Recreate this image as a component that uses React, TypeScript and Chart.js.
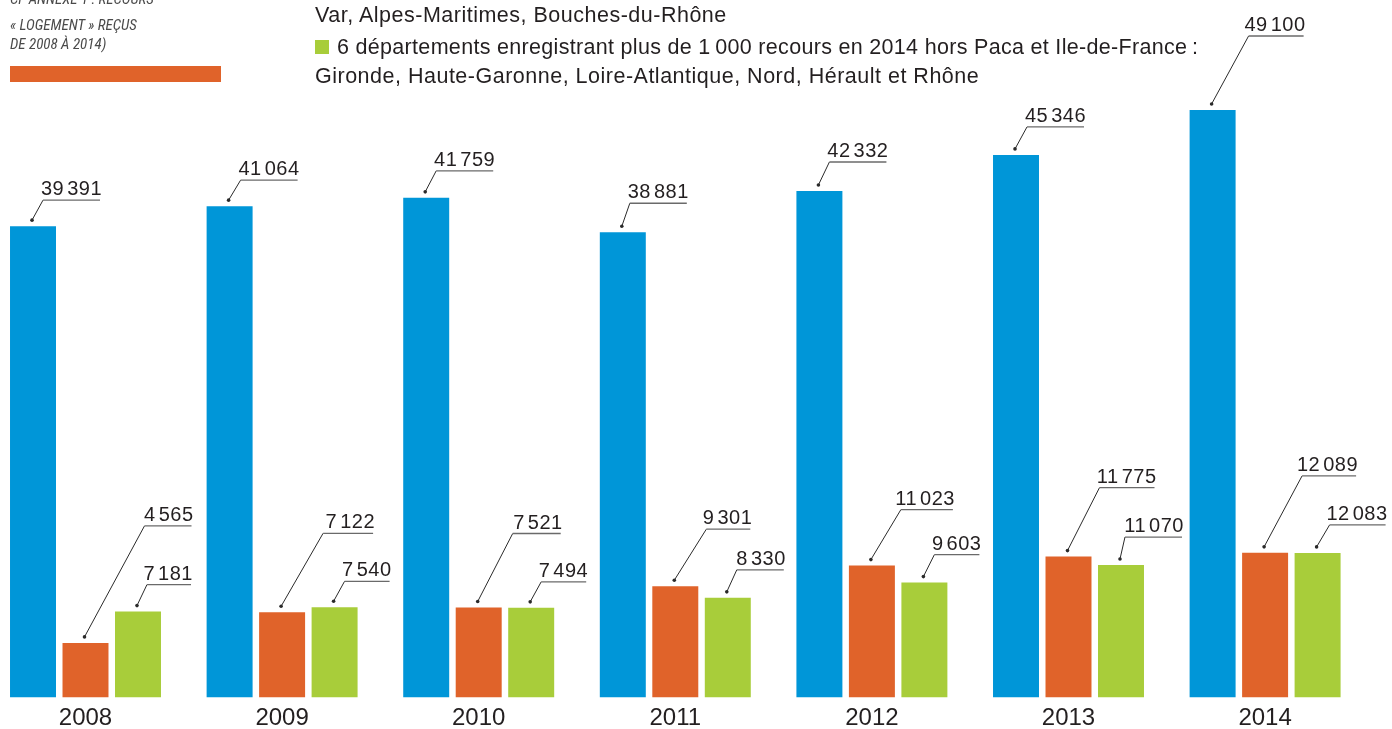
import React, { useEffect, useRef } from "react";
import { Chart, registerables } from "chart.js";

Chart.register(...registerables);

// ---- Data ----
const years = ["2008", "2009", "2010", "2011", "2012", "2013", "2014"];
const ileDeFrance = [39391, 41064, 41759, 38881, 42332, 45346, 49100];
const paca = [4565, 7122, 7521, 9301, 11023, 11775, 12089];
const sixDepartements = [7181, 7540, 7494, 8330, 9603, 11070, 12083];

const seriesLabels = [
  "Île-de-France",
  "Paca : Var, Alpes-Maritimes, Bouches-du-Rhône",
  "6 départements enregistrant plus de 1 000 recours en 2014 hors Paca et Ile-de-France",
];
const seriesColors = ["#0096d8", "#e0632a", "#a8cd3a"];
const yMax = 58000;

// ---- Leader-line layout (offsets from bar top-centre: elbow dx, elbow dy, horizontal length) ----
const leaderBlue = [[10, -26, 57], [11, -26, 57], [10, -27, 57], [7, -29, 57], [10, -29, 57], [11, -28, 57], [36, -74, 55]];
const leaderOrange = [[59, -117, 47], [41, -79, 50], [34, -74, 48], [31, -57, 44], [29, -56, 52], [31, -69, 55], [37, -77, 54]];
const leaderGreen = [[9, -27, 44], [10, -26, 45], [10, -26, 45], [9, -28, 47], [10, -28, 45], [4, -28, 57], [12, -28, 56]];
const leaders = [leaderBlue, leaderOrange, leaderGreen];

const FONT = "'Liberation Sans', Arial, Helvetica, sans-serif";

const leaderPlugin = {
  id: "leaderLabels",
  afterDatasetsDraw(chart: any) {
    const ctx = chart.ctx as CanvasRenderingContext2D;
    ctx.save();
    chart.data.datasets.forEach((ds: any, di: number) => {
      const meta = chart.getDatasetMeta(di);
      const offs = leaders[di];
      meta.data.forEach((el: any, i: number) => {
        const v = ds.data[i] as number;
        const cx = el.x;
        const top = el.y;
        const dotX = cx - 1;
        const dotY = top - 6;
        const [ex, ey, len] = offs[i];
        const kx = cx + ex;
        const ky = top + ey;
        const endX = kx + len;
        ctx.strokeStyle = "#2a2a2a";
        ctx.lineWidth = 1;
        ctx.beginPath();
        ctx.moveTo(dotX, dotY);
        ctx.lineTo(kx, ky);
        ctx.stroke();
        ctx.strokeStyle = "#6a6a6a";
        ctx.lineWidth = 1.3;
        ctx.beginPath();
        ctx.moveTo(kx, ky);
        ctx.lineTo(endX, ky);
        ctx.stroke();
        ctx.fillStyle = "#2a2a2a";
        ctx.beginPath();
        ctx.arc(dotX, dotY, 1.8, 0, Math.PI * 2);
        ctx.fill();
        const s = String(v);
        const head = s.length > 3 ? s.slice(0, s.length - 3) : "";
        const tail = s.length > 3 ? s.slice(s.length - 3) : s;
        ctx.font = `20px ${FONT}`;
        (ctx as any).letterSpacing = "0.5px";
        ctx.textAlign = "left";
        ctx.textBaseline = "alphabetic";
        ctx.fillStyle = "#231f20";
        const gap = 3;
        const wHead = head ? ctx.measureText(head).width : 0;
        const wTail = ctx.measureText(tail).width;
        const total = wHead + (head ? gap : 0) + wTail - 0.5;
        const startX = endX + 1.5 - total;
        const by = ky - 5;
        if (head) ctx.fillText(head, startX, by);
        ctx.fillText(tail, startX + wHead + (head ? gap : 0), by);
        (ctx as any).letterSpacing = "0px";
      });
    });
    ctx.restore();
  },
};

export default function App() {
  const canvasRef = useRef<HTMLCanvasElement | null>(null);

  useEffect(() => {
    if (!canvasRef.current) return;
    const chart = new Chart(canvasRef.current, {
      type: "bar",
      data: {
        labels: years,
        datasets: [
          { label: seriesLabels[0], data: ileDeFrance, backgroundColor: seriesColors[0] },
          { label: seriesLabels[1], data: paca, backgroundColor: seriesColors[1] },
          { label: seriesLabels[2], data: sixDepartements, backgroundColor: seriesColors[2] },
        ],
      },
      options: {
        animation: false,
        responsive: false,
        devicePixelRatio: 1,
        events: [],
        layout: { padding: { top: 3.5, left: 7.2, right: 28.6, bottom: 0 } },
        datasets: { bar: { categoryPercentage: 0.801, barPercentage: 0.876 } },
        plugins: { legend: { display: false }, tooltip: { enabled: false }, title: { display: false } },
        scales: {
          x: {
            grid: { display: false, drawTicks: false },
            border: { display: false },
            ticks: { color: "#231f20", font: { family: FONT, size: 24 }, padding: 6 },
            afterFit: (scale: any) => {
              scale.height = 31.5;
            },
          },
          y: { display: false, min: 0, max: yMax },
        },
      },
      plugins: [leaderPlugin],
    });
    return () => chart.destroy();
  }, []);

  const noteStyle: React.CSSProperties = {
    position: "absolute",
    left: 10,
    fontFamily: "'Liberation Sans Narrow', 'Roboto Condensed', 'DejaVu Sans Condensed', 'Liberation Sans', sans-serif",
    fontStretch: "condensed",
    fontStyle: "italic",
    fontSize: 15,
    lineHeight: "15px",
    color: "#4a4a4a",
    whiteSpace: "nowrap",
  };
  const legStyle: React.CSSProperties = {
    position: "absolute",
    fontFamily: FONT,
    fontSize: 21.5,
    lineHeight: "20px",
    letterSpacing: "0.5px",
    color: "#231f20",
    whiteSpace: "nowrap",
  };

  return (
    <div style={{ position: "absolute", left: 0, top: 0, width: 1392, height: 729, overflow: "hidden", background: "#fff" }}>
      <div style={{ position: "absolute", left: -20, top: 0, width: 1412, height: 729 }}>
        <canvas ref={canvasRef} width={1412} height={729} style={{ display: "block" }} />
      </div>
      <div style={{ ...noteStyle, top: -7.7 }}>CF ANNEXE 1 : RECOURS</div>
      <div style={{ ...noteStyle, top: 18 }}>« LOGEMENT » REÇUS</div>
      <div style={{ ...noteStyle, top: 36.8 }}>DE 2008 À 2014)</div>
      <div style={{ position: "absolute", left: 10, top: 66, width: 211, height: 16, background: seriesColors[1] }} />
      <div style={{ ...legStyle, left: 315, top: 4.5 }}>Var, Alpes-Maritimes, Bouches-du-Rhône</div>
      <div style={{ position: "absolute", left: 315, top: 40, width: 14, height: 14, background: seriesColors[2] }} />
      <div style={{ ...legStyle, left: 337, top: 36.5, letterSpacing: "0.31px" }}>
        6 départements enregistrant plus de 1{"\u2009"}000 recours en 2014 hors Paca et Ile-de-France{"\u2009"}:
      </div>
      <div style={{ ...legStyle, left: 315, top: 65.5 }}>Gironde, Haute-Garonne, Loire-Atlantique, Nord, Hérault et Rhône</div>
    </div>
  );
}
